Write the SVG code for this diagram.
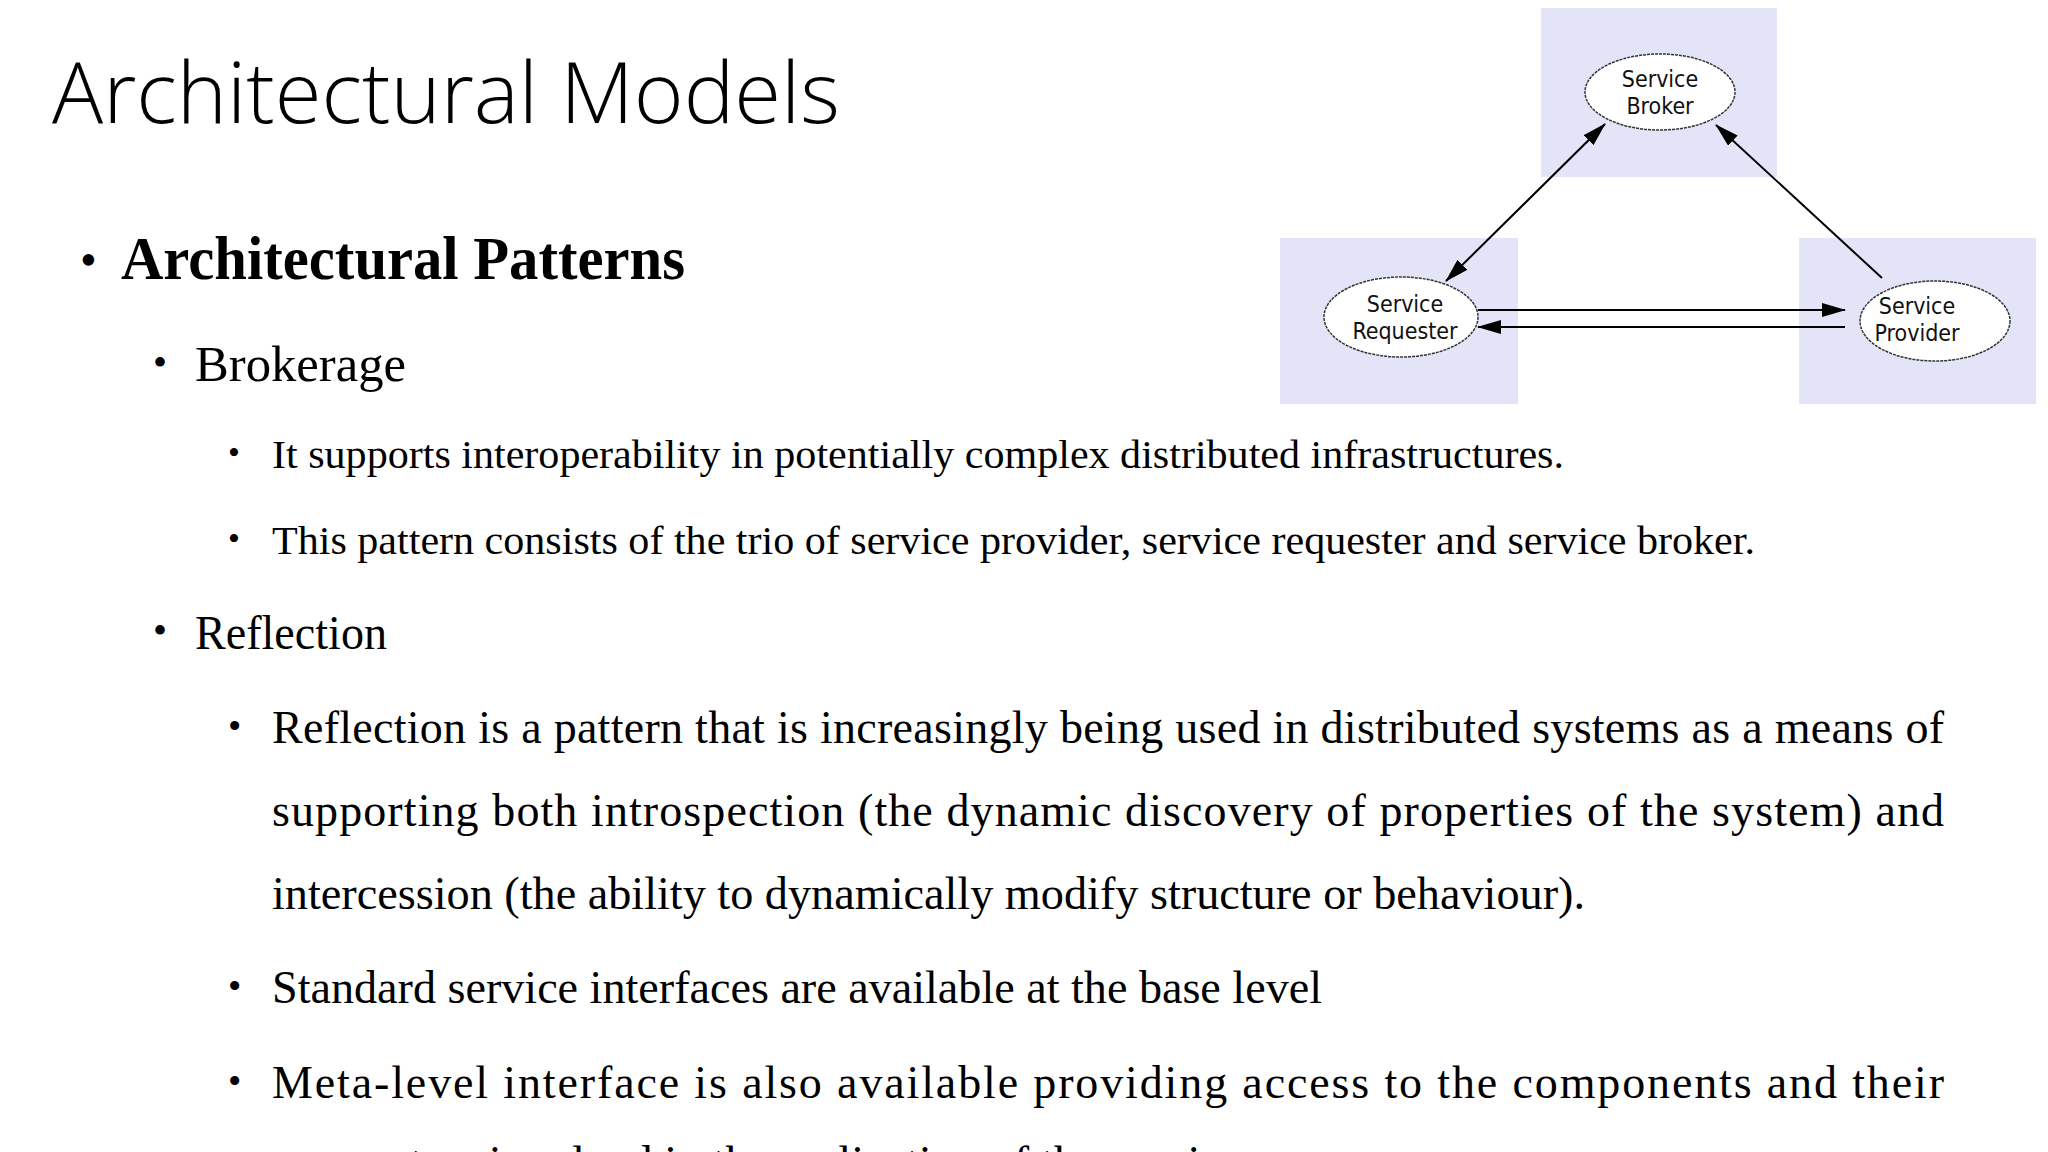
<svg xmlns="http://www.w3.org/2000/svg" width="2048" height="1152" viewBox="0 0 2048 1152">
<defs>
<style>
.t{font-family:"Liberation Serif","Times New Roman",serif;fill:#000}
.bg{fill:#e4e4f8}
.el{fill:#fff;stroke:#333;stroke-width:1.5;stroke-dasharray:3 1}
.nl{font-family:"DejaVu Sans Condensed","DejaVu Sans",sans-serif;font-size:23px;fill:#111;text-anchor:middle}
.c{stroke:#000;stroke-width:2;fill:none}
</style>
<marker id="ah" markerWidth="24" markerHeight="14" refX="23" refY="7" orient="auto-start-reverse" markerUnits="userSpaceOnUse"><path d="M0,0 L24,7 L0,14 Z" fill="#000"/></marker>
</defs>
<rect width="2048" height="1152" fill="#fff"/>
<text x="52" y="123" font-family="'Open Sans','Liberation Sans',sans-serif" font-weight="300" font-size="84" textLength="788" lengthAdjust="spacingAndGlyphs">Architectural Models</text>
<g class="t">
<text x="80" y="276" font-size="48">•</text>
<text x="121" y="279" font-size="62" font-weight="bold" textLength="564" lengthAdjust="spacingAndGlyphs">Architectural Patterns</text>
<text x="153" y="376" font-size="40">•</text>
<text x="195" y="381" font-size="50" textLength="211" lengthAdjust="spacingAndGlyphs">Brokerage</text>
<text x="228" y="464" font-size="34">•</text>
<text x="272" y="468" font-size="41" textLength="1292" lengthAdjust="spacingAndGlyphs">It supports interoperability in potentially complex distributed infrastructures.</text>
<text x="228" y="550" font-size="34">•</text>
<text x="272" y="554" font-size="41" textLength="1483" lengthAdjust="spacingAndGlyphs">This pattern consists of the trio of service provider, service requester and service broker.</text>
<text x="153" y="644" font-size="40">•</text>
<text x="195" y="649" font-size="48" textLength="192" lengthAdjust="spacingAndGlyphs">Reflection</text>
<text x="228" y="739" font-size="38">•</text>
<text x="272" y="743" font-size="46" textLength="1672" lengthAdjust="spacing">Reflection is a pattern that is increasingly being used in distributed systems as a means of</text>
<text x="272" y="826" font-size="46" textLength="1672" lengthAdjust="spacing">supporting both introspection (the dynamic discovery of properties of the system) and</text>
<text x="272" y="909" font-size="46" textLength="1313" lengthAdjust="spacingAndGlyphs">intercession (the ability to dynamically modify structure or behaviour).</text>
<text x="228" y="999" font-size="38">•</text>
<text x="272" y="1003" font-size="46" textLength="1050" lengthAdjust="spacingAndGlyphs">Standard service interfaces are available at the base level</text>
<text x="228" y="1094" font-size="38">•</text>
<text x="272" y="1098" font-size="46" textLength="1672" lengthAdjust="spacing">Meta-level interface is also available providing access to the components and their</text>
<text x="272" y="1178" font-size="46" textLength="1000" lengthAdjust="spacingAndGlyphs">parameters involved in the realization of the services.</text>
</g>
<rect class="bg" x="1541" y="8" width="236" height="169"/>
<rect class="bg" x="1280" y="238" width="238" height="166"/>
<rect class="bg" x="1799" y="238" width="237" height="166"/>
<g id="connectors">
<line class="c" x1="1446" y1="281" x2="1605" y2="124" marker-start="url(#ah)" marker-end="url(#ah)"/>
<line class="c" x1="1882" y1="278" x2="1716" y2="125" marker-end="url(#ah)"/>
<line class="c" x1="1478" y1="310" x2="1845" y2="310" marker-end="url(#ah)"/>
<line class="c" x1="1845" y1="327" x2="1478" y2="327" marker-end="url(#ah)"/>
</g>
<g id="broker"><ellipse class="el" cx="1660" cy="92" rx="75" ry="38"/><text class="nl" x="1660" y="87">Service</text><text class="nl" x="1660" y="114">Broker</text></g>
<g id="requester"><ellipse class="el" cx="1401" cy="317" rx="77" ry="40"/><text class="nl" x="1405" y="312">Service</text><text class="nl" x="1405" y="339">Requester</text></g>
<g id="provider"><ellipse class="el" cx="1935" cy="321" rx="75" ry="40"/><text class="nl" x="1917" y="314">Service</text><text class="nl" x="1917" y="341">Provider</text></g>
</svg>
